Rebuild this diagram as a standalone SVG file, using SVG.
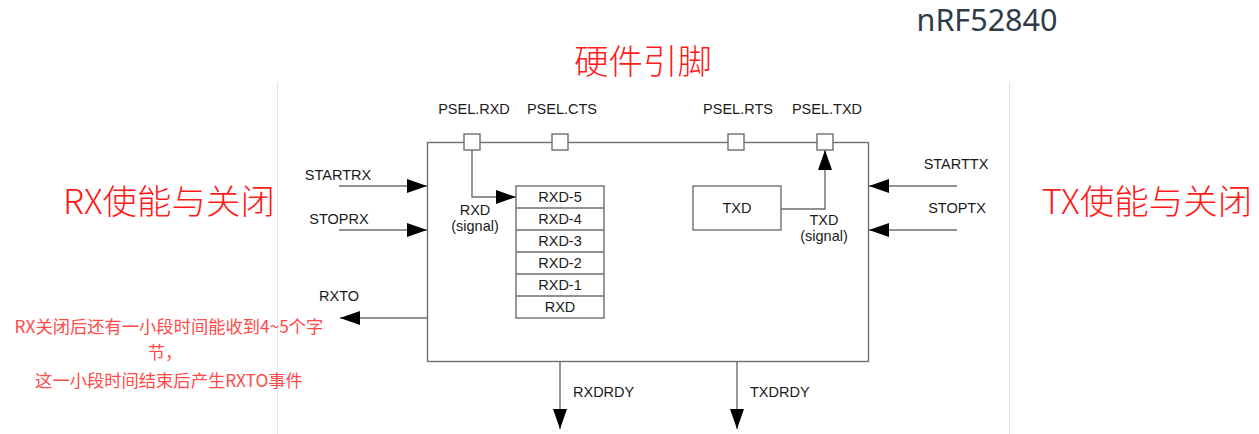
<svg xmlns="http://www.w3.org/2000/svg" width="1259" height="434" viewBox="0 0 1259 434">
<defs>
<style>
.t{font-family:"Liberation Sans",Arial,sans-serif;font-size:14.5px;fill:#1a1a1a}
.c{text-anchor:middle}
.red{font-family:"Noto Sans CJK SC","Noto Sans",sans-serif;fill:#ff1a1a;font-size:34.5px;font-weight:300}
.note{font-family:"Noto Sans CJK SC","Noto Sans",sans-serif;fill:#ff4a4a;font-size:17.3px;text-anchor:middle}
.ln{stroke:#6e6e6e;stroke-width:1.4;fill:none}
.bx{stroke:#6e6e6e;stroke-width:1.4;fill:#fff}
.sep{stroke:#e3e3e3;stroke-width:1}
</style>
<marker id="ah" viewBox="0 0 20 14" refX="20" refY="7" markerWidth="20" markerHeight="14" markerUnits="userSpaceOnUse" orient="auto">
<path d="M0,0 L20,7 L0,14 Z" fill="#000"/>
</marker>
</defs>
<rect width="1259" height="434" fill="#fff"/>
<line class="sep" x1="277.5" y1="82" x2="277.5" y2="434"/>
<line class="sep" x1="1009.5" y1="82" x2="1009.5" y2="434"/>

<text x="987" y="31" font-family="'Noto Sans','Open Sans',sans-serif" font-size="30.5" fill="#2e3b4a" text-anchor="middle">nRF52840</text>
<text class="red" x="643" y="74" text-anchor="middle" font-size="36">硬件引脚</text>
<text class="red" x="169" y="214" text-anchor="middle">RX使能与关闭</text>
<text class="red" x="1147" y="214" text-anchor="middle">TX使能与关闭</text>

<g id="uart">
<rect class="ln" x="427.5" y="142.5" width="441" height="219"/>
</g>

<g id="psel-rxd"><rect class="bx" x="464" y="134" width="16" height="16"/><text class="t c" x="474" y="114">PSEL.RXD</text></g>
<g id="psel-cts"><rect class="bx" x="552" y="134" width="16" height="16"/><text class="t c" x="562" y="114">PSEL.CTS</text></g>
<g id="psel-rts"><rect class="bx" x="728" y="134" width="16" height="16"/><text class="t c" x="738" y="114">PSEL.RTS</text></g>
<g id="psel-txd"><rect class="bx" x="817" y="134" width="16" height="16"/><text class="t c" x="827" y="114">PSEL.TXD</text></g>

<g id="rxd-fifo">
<rect class="ln" x="516" y="186" width="88" height="132"/>
<line class="ln" x1="516" y1="208" x2="604" y2="208"/>
<line class="ln" x1="516" y1="230" x2="604" y2="230"/>
<line class="ln" x1="516" y1="252" x2="604" y2="252"/>
<line class="ln" x1="516" y1="274" x2="604" y2="274"/>
<line class="ln" x1="516" y1="296" x2="604" y2="296"/>
<text class="t c" x="560" y="202">RXD-5</text>
<text class="t c" x="560" y="224">RXD-4</text>
<text class="t c" x="560" y="246">RXD-3</text>
<text class="t c" x="560" y="268">RXD-2</text>
<text class="t c" x="560" y="290">RXD-1</text>
<text class="t c" x="560" y="312">RXD</text>
</g>

<g id="txd">
<rect class="ln" x="693" y="186" width="88" height="44"/>
<text class="t c" x="737" y="213">TXD</text>
</g>

<g id="connectors">
<polyline class="ln" points="472,150 472,197 516,197" marker-end="url(#ah)"/>
<polyline class="ln" points="781,209 825,209 825,150" marker-end="url(#ah)"/>
<line class="ln" x1="339" y1="186" x2="427" y2="186" marker-end="url(#ah)"/>
<line class="ln" x1="339" y1="230" x2="427" y2="230" marker-end="url(#ah)"/>
<line class="ln" x1="957" y1="186" x2="869" y2="186" marker-end="url(#ah)"/>
<line class="ln" x1="957" y1="230" x2="869" y2="230" marker-end="url(#ah)"/>
<line class="ln" x1="427" y1="318" x2="340" y2="318" marker-end="url(#ah)"/>
<line class="ln" x1="560" y1="362" x2="560" y2="429" marker-end="url(#ah)"/>
<line class="ln" x1="737" y1="362" x2="737" y2="429" marker-end="url(#ah)"/>
</g>

<g id="labels">
<text class="t c" x="338" y="180">STARTRX</text>
<text class="t c" x="339" y="224">STOPRX</text>
<text class="t c" x="956" y="169">STARTTX</text>
<text class="t c" x="957" y="213">STOPTX</text>
<text class="t c" x="339" y="301">RXTO</text>
<text class="t c" x="475" y="215">RXD</text>
<text class="t c" x="475" y="231">(signal)</text>
<text class="t c" x="824" y="225">TXD</text>
<text class="t c" x="824" y="241">(signal)</text>
<text class="t" x="573" y="397">RXDRDY</text>
<text class="t" x="750" y="397">TXDRDY</text>
</g>

<g id="note">
<text class="note" x="169" y="333">RX关闭后还有一小段时间能收到4~5个字</text>
<text class="note" x="165" y="359">节，</text>
<text class="note" x="169" y="387">这一小段时间结束后产生RXTO事件</text>
</g>
</svg>
